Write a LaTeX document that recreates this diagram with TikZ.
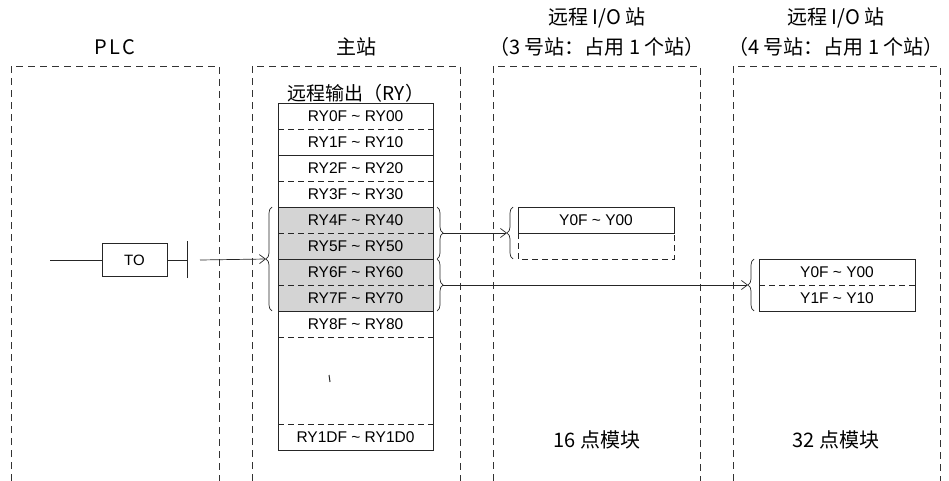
\documentclass[tikz,border=0pt]{standalone}
\usepackage{fontspec}
\setmainfont{Liberation Sans}
\newfontfamily\cjk{Noto Sans CJK SC}
\usetikzlibrary{arrows.meta,decorations.pathreplacing}
\begin{document}
\begin{tikzpicture}[x=1pt,y=-1pt,
  stationbox/.style={draw=black!80,line width=0.7pt,dash pattern=on 7pt off 5pt},
  title/.style={font=\cjk\fontsize{20}{22}\selectfont,inner sep=0pt},
  lbl/.style={font=\fontsize{15.5}{17}\selectfont,inner sep=0pt},
  hdr/.style={font=\cjk\fontsize{19}{21}\selectfont,inner sep=0pt},
  solidline/.style={draw=black!85,line width=0.7pt},
  dashline/.style={draw=black!85,line width=0.7pt,dash pattern=on 6pt off 4pt},
  bracestyle/.style={draw=black!85,line width=0.7pt,decorate,decoration={brace,amplitude=6pt}},
  conn/.style={draw=black!85,line width=0.7pt,-{Straight Barb[length=6pt,width=9pt]}},
]
\useasboundingbox (0,0) rectangle (949,481);

% station boxes
\draw[stationbox] (11,481) -- (11,66) -- (219,66) -- (219,481);
\draw[stationbox] (252,481) -- (252,66) -- (460,66) -- (460,481);
\draw[stationbox] (493,481) -- (493,66) -- (700,66) -- (700,481);
\draw[stationbox] (733,481) -- (733,66) -- (940,66) -- (940,481);

% titles
\node[title] (tplc) at (115,47) {\addfontfeature{LetterSpace=12}PLC};
\node[title] (tmaster) at (356,47) {主站};
\node[title] (tr3a) at (597,18) {远程 I/O 站};
\node[title] (tr3b) at (597,47) {（3 号站：占用 1 个站）};
\node[title] (tr4a) at (836,18) {远程 I/O 站};
\node[title] (tr4b) at (836,47) {（4 号站：占用 1 个站）};
\node[title] (b3) at (597,440) {16 点模块};
\node[title] (b4) at (836,440) {32 点模块};

% PLC ladder
\node[draw=black!85,line width=0.7pt,minimum width=65pt,minimum height=33pt,inner sep=0pt,font=\fontsize{15}{17}\selectfont] (to) at (134.5,260) {TO};
\coordinate (lstart) at (50,260);
\coordinate (bar) at (187,260);
\draw[solidline] (lstart) -- (to.west);
\draw[solidline] (to.east) -- (bar);
\draw[solidline] ([yshift=-18pt]bar) -- ([yshift=19pt]bar);
\coordinate (pout) at (200,260);

% master table
\node[hdr] (rh) at (356,93) {远程输出（RY）};
\fill[black!17] (278,207) rectangle (433,311);
\node[lbl] (r0) at (355.5,116) {RY0F \textasciitilde{} RY00};
\node[lbl] (r1) at (355.5,142) {RY1F \textasciitilde{} RY10};
\node[lbl] (r2) at (355.5,168) {RY2F \textasciitilde{} RY20};
\node[lbl] (r3) at (355.5,194) {RY3F \textasciitilde{} RY30};
\node[lbl] (r4) at (355.5,220) {RY4F \textasciitilde{} RY40};
\node[lbl] (r5) at (355.5,246) {RY5F \textasciitilde{} RY50};
\node[lbl] (r6) at (355.5,272) {RY6F \textasciitilde{} RY60};
\node[lbl] (r7) at (355.5,298) {RY7F \textasciitilde{} RY70};
\node[lbl] (r8) at (355.5,324) {RY8F \textasciitilde{} RY80};
\node[lbl] (r1d) at (355.5,437) {RY1DF \textasciitilde{} RY1D0};
\draw[solidline] (278,103) rectangle (433,450);
\foreach \yy in {155,207,259,311}{\draw[solidline] (278,\yy) -- (433,\yy);}
\foreach \yy in {129,181,233,285,337,424}{\draw[dashline] (278,\yy) -- (433,\yy);}
\draw[line width=1pt,black!85] (329,375) -- (330,382);

% master braces
\draw[bracestyle] (272,311) -- (272,207);
\coordinate (mtipl) at (266,259);
\draw[bracestyle] (437,207) -- (437,259);
\coordinate (mtip1) at (443,233);
\draw[bracestyle] (437,259) -- (437,311);
\coordinate (mtip2) at (443,285);

% remote 3
\node[lbl] (y3a) at (596,220) {Y0F \textasciitilde{} Y00};
\draw[solidline] (518,207) rectangle (674,233);
\draw[dashline] (518,233) -- (518,259) -- (674,259) -- (674,233);
\draw[bracestyle] (513,259) -- (513,207);
\coordinate (r3tip) at (507,233);

% remote 4
\node[lbl] (y4a) at (837,272) {Y0F \textasciitilde{} Y00};
\node[lbl] (y4b) at (837,298) {Y1F \textasciitilde{} Y10};
\draw[solidline] (759,259) rectangle (915,311);
\draw[dashline] (759,285) -- (915,285);
\draw[bracestyle] (754,311) -- (754,259);
\coordinate (r4tip) at (748,285);

% connectors
\draw[conn] (pout) -- (mtipl);
\draw[conn] (mtip1) -- (r3tip);
\draw[conn] (mtip2) -- (r4tip);
\end{tikzpicture}
\end{document}
